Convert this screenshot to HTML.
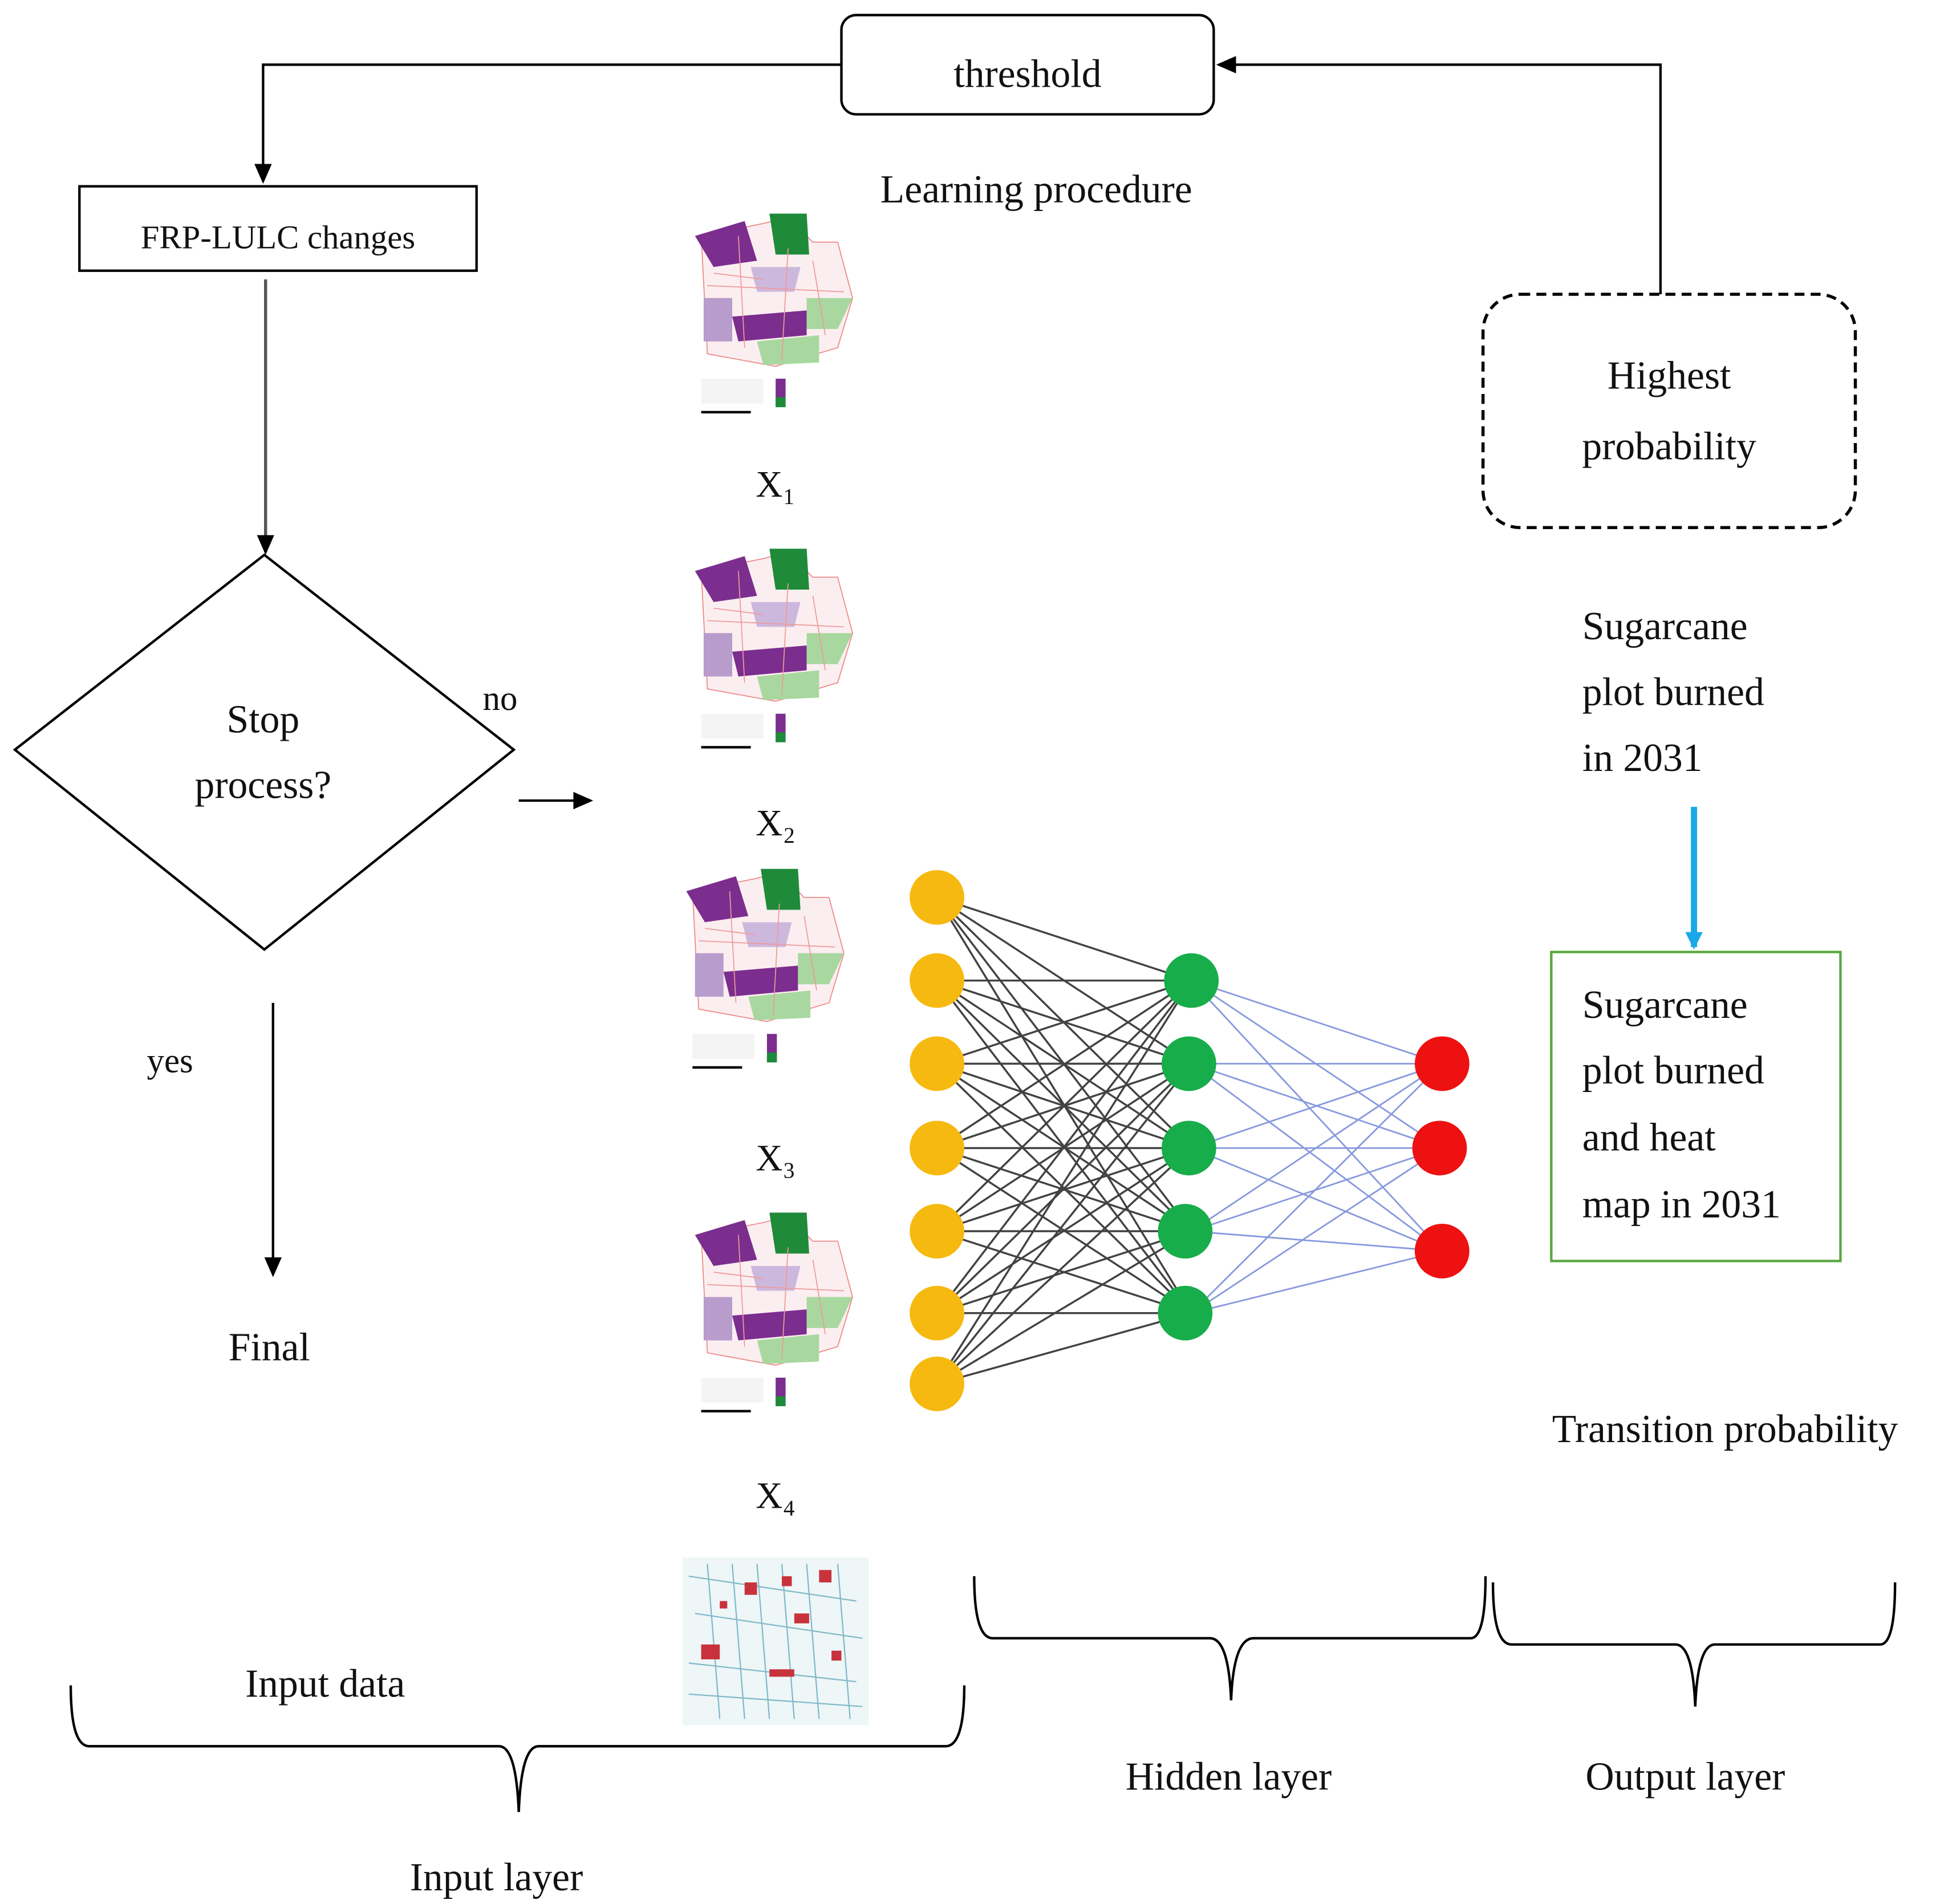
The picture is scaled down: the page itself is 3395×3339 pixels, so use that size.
<!DOCTYPE html>
<html><head><meta charset="utf-8"><style>
html,body{margin:0;padding:0;background:#fff}
svg{display:block}
text{font-family:"Liberation Serif",serif;fill:#111}
</style></head><body>
<svg width="3395" height="3339" viewBox="0 0 1560 1534" xmlns="http://www.w3.org/2000/svg">
<defs>
<marker id="ah" markerWidth="16" markerHeight="16" refX="14" refY="8" orient="auto" markerUnits="userSpaceOnUse" viewBox="0 0 16 16"><path d="M0,1 L16,8 L0,15z" fill="#000"/></marker>
<marker id="ab" markerWidth="14" markerHeight="14" refX="12" refY="7" orient="auto" markerUnits="userSpaceOnUse" viewBox="0 0 14 14"><path d="M0,0 L14,7 L0,14z" fill="#1aa9e8"/></marker>
<g id="map">
<rect x="0" y="0" width="135" height="170" fill="#fff"/>
<path d="M10,20 L60,10 L80,5 L100,25 L120,25 L132,70 L120,110 L70,125 L15,115 Z" fill="#fbeef0" stroke="#e88" stroke-width="0.8"/>
<path d="M5,20 L45,8 L55,40 L20,45 Z" fill="#7b2e8e"/>
<path d="M65,2 L95,2 L97,35 L70,35 Z" fill="#1e8a3a"/>
<path d="M12,70 L35,70 L35,105 L12,105 Z" fill="#b89ccc"/>
<path d="M35,85 L95,80 L95,100 L40,105 Z" fill="#7b2e8e"/>
<path d="M95,70 L132,70 L120,95 L95,95 Z" fill="#a8d8a0"/>
<path d="M55,105 L105,100 L105,122 L60,124 Z" fill="#a8d8a0"/>
<path d="M50,45 L90,45 L85,65 L55,65 Z" fill="#cdb8dd"/>
<path d="M20,50 L60,55 M40,20 L45,110 M80,30 L75,120 M100,40 L110,100 M15,60 L125,65" stroke="#e99" stroke-width="0.8" fill="none"/>
<rect x="10" y="135" width="50" height="20" fill="#f4f4f4"/>
<rect x="70" y="135" width="8" height="22" fill="#7b2e8e"/>
<rect x="70" y="150" width="8" height="8" fill="#1e8a3a"/>
<line x1="10" y1="162" x2="50" y2="162" stroke="#000" stroke-width="2"/>
</g>
</defs>

<rect x="678" y="12" width="300" height="80" rx="12" fill="#fff" stroke="#000" stroke-width="2"/>
<text x="828" y="70" font-size="32" text-anchor="middle">threshold</text>
<polyline points="678,52 212,52 212,146" fill="none" stroke="#000" stroke-width="2" marker-end="url(#ah)"/>
<polyline points="1338,237 1338,52 982,52" fill="none" stroke="#000" stroke-width="2" marker-end="url(#ah)"/>
<text x="835" y="163" font-size="32" text-anchor="middle">Learning procedure</text>

<rect x="64" y="150" width="320" height="68" fill="#fff" stroke="#000" stroke-width="2"/>
<text x="224" y="200" font-size="27" text-anchor="middle">FRP-LULC changes</text>
<line x1="214" y1="225" x2="214" y2="445" stroke="#555" stroke-width="2.5" marker-end="url(#ah)"/>

<polygon points="12,604 213,447 414,604 213,765" fill="#fff" stroke="#000" stroke-width="2"/>
<text x="212" y="590" font-size="32" text-anchor="middle">Stop</text>
<text x="212" y="643" font-size="32" text-anchor="middle">process?</text>
<text x="403" y="572" font-size="28" text-anchor="middle">no</text>
<line x1="418" y1="645" x2="476" y2="645" stroke="#000" stroke-width="2" marker-end="url(#ah)"/>
<line x1="220" y1="808" x2="220" y2="1027" stroke="#000" stroke-width="2" marker-end="url(#ah)"/>
<text x="137" y="864" font-size="28" text-anchor="middle">yes</text>
<text x="217" y="1096" font-size="32" text-anchor="middle">Final</text>

<use href="#map" x="555" y="170"/>
<use href="#map" x="555" y="440"/>
<use href="#map" x="548" y="698"/>
<use href="#map" x="555" y="975"/>
<g>
<rect x="550" y="1255" width="150" height="135" fill="#eef6f7"/>
<g fill="none" stroke="#7fb8c8" stroke-width="1">
<path d="M555,1270 L690,1290 M560,1300 L695,1320 M555,1340 L690,1355 M570,1260 L580,1385 M610,1260 L620,1385 M650,1260 L660,1385 M555,1365 L695,1375 M590,1260 L600,1385 M630,1260 L640,1385 M675,1260 L685,1385"/>
</g>
<g fill="#c8323c">
<rect x="565" y="1325" width="15" height="12"/><rect x="600" y="1275" width="10" height="10"/><rect x="640" y="1300" width="12" height="8"/><rect x="660" y="1265" width="10" height="10"/><rect x="620" y="1345" width="20" height="6"/><rect x="580" y="1290" width="6" height="6"/><rect x="670" y="1330" width="8" height="8"/><rect x="630" y="1270" width="8" height="8"/>
</g>
</g>
<text x="625" y="400" font-size="30" text-anchor="middle">X₁</text>
<text x="625" y="673" font-size="30" text-anchor="middle">X₂</text>
<text x="625" y="943" font-size="30" text-anchor="middle">X₃</text>
<text x="625" y="1215" font-size="30" text-anchor="middle">X₄</text>

<g stroke="#222" stroke-width="1.6" opacity="0.85">
<path d="M755,723 L960,790 M755,723 L960,857 M755,723 L960,925 M755,723 L960,992 M755,723 L960,1058
M755,790 L960,790 M755,790 L960,857 M755,790 L960,925 M755,790 L960,992 M755,790 L960,1058
M755,857 L960,790 M755,857 L960,857 M755,857 L960,925 M755,857 L960,992 M755,857 L960,1058
M755,925 L960,790 M755,925 L960,857 M755,925 L960,925 M755,925 L960,992 M755,925 L960,1058
M755,992 L960,790 M755,992 L960,857 M755,992 L960,925 M755,992 L960,992 M755,992 L960,1058
M755,1058 L960,790 M755,1058 L960,857 M755,1058 L960,925 M755,1058 L960,992 M755,1058 L960,1058
M755,1115 L960,790 M755,1115 L960,857 M755,1115 L960,925 M755,1115 L960,992 M755,1115 L960,1058"/>
</g>
<g stroke="#8899dd" stroke-width="1.3">
<path d="M960,790 L1162,857 M960,790 L1162,925 M960,790 L1162,1008
M960,857 L1162,857 M960,857 L1162,925 M960,857 L1162,1008
M960,925 L1162,857 M960,925 L1162,925 M960,925 L1162,1008
M960,992 L1162,857 M960,992 L1162,925 M960,992 L1162,1008
M960,1058 L1162,857 M960,1058 L1162,925 M960,1058 L1162,1008"/>
</g>
<g fill="#f6b90f">
<circle cx="755" cy="723" r="22"/><circle cx="755" cy="790" r="22"/><circle cx="755" cy="857" r="22"/><circle cx="755" cy="925" r="22"/><circle cx="755" cy="992" r="22"/><circle cx="755" cy="1058" r="22"/><circle cx="755" cy="1115" r="22"/>
</g>
<g fill="#17ad4a">
<circle cx="960" cy="790" r="22"/><circle cx="958" cy="857" r="22"/><circle cx="958" cy="925" r="22"/><circle cx="955" cy="992" r="22"/><circle cx="955" cy="1058" r="22"/>
</g>
<g fill="#ee1111">
<circle cx="1162" cy="857" r="22"/><circle cx="1160" cy="925" r="22"/><circle cx="1162" cy="1008" r="22"/>
</g>

<rect x="1195" y="237" width="300" height="188" rx="30" fill="#fff" stroke="#000" stroke-width="2.5" stroke-dasharray="8,5"/>
<text x="1345" y="313" font-size="32" text-anchor="middle">Highest</text>
<text x="1345" y="370" font-size="32" text-anchor="middle">probability</text>
<text x="1275" y="515" font-size="32">Sugarcane</text>
<text x="1275" y="568" font-size="32">plot burned</text>
<text x="1275" y="621" font-size="32">in 2031</text>
<line x1="1365" y1="650" x2="1365" y2="763" stroke="#1aa9e8" stroke-width="5" marker-end="url(#ab)"/>
<rect x="1250" y="767" width="233" height="249" fill="#fff" stroke="#5aa83f" stroke-width="2"/>
<text x="1275" y="820" font-size="32">Sugarcane</text>
<text x="1275" y="873" font-size="32">plot burned</text>
<text x="1275" y="927" font-size="32">and heat</text>
<text x="1275" y="981" font-size="32">map in 2031</text>
<text x="1390" y="1162" font-size="32" text-anchor="middle">Transition probability</text>

<g fill="none" stroke="#000" stroke-width="2">
<path d="M785,1270 Q785,1320 800,1320 L975,1320 Q990,1320 992,1370 Q994,1320 1010,1320 L1185,1320 Q1197,1320 1197,1270"/>
<path d="M1203,1275 Q1203,1325 1218,1325 L1350,1325 Q1364,1325 1366,1375 Q1368,1325 1382,1325 L1515,1325 Q1527,1325 1527,1275"/>
<path d="M57,1358 Q57,1407 72,1407 L402,1407 Q416,1407 418,1460 Q420,1407 434,1407 L762,1407 Q777,1407 777,1358"/>
</g>
<text x="262" y="1367" font-size="32" text-anchor="middle">Input data</text>
<text x="990" y="1442" font-size="32" text-anchor="middle">Hidden layer</text>
<text x="1358" y="1442" font-size="32" text-anchor="middle">Output layer</text>
<text x="400" y="1523" font-size="32" text-anchor="middle">Input layer</text>
</svg>
</body></html>
